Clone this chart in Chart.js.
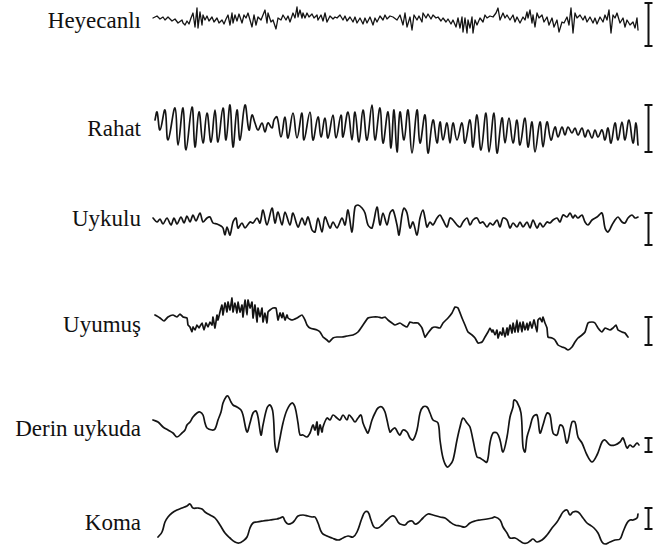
<!DOCTYPE html>
<html><head><meta charset="utf-8">
<script src="https://cdn.jsdelivr.net/npm/chart.js@4.4.0/dist/chart.umd.min.js"></script>
<style>
html,body{margin:0;padding:0;background:#fff;width:655px;height:549px;overflow:hidden;position:relative}
.lbl{position:absolute;font-family:"Liberation Serif","DejaVu Serif",serif;font-size:23px;color:#111;white-space:nowrap;line-height:1;transform:translateY(-50%);text-align:right}
canvas{position:absolute;left:150px}
</style></head><body>
<script>
// Trace names (categories)
const traceNames = ["Heyecanlı","Rahat","Uykulu","Uyumuş","Derin uykuda","Koma"];

// Each trace: [time, amplitude] samples
const heyecanli = [[3,2],[7,4],[10,1],[13,3],[15,0],[18,3],[22,-1],[25,1],[28,-3],[32,0],[33,-3],[35,-5],[37,-1],[39,-4],[41,2],[43,7],[45,-7],[47,12],[48,-8],[50,8],[52,-5],[53,5],[55,0],[57,4],[59,-1],[62,3],[64,-2],[67,2],[69,-3],[72,0],[74,-4],[76,1],[78,5],[80,-5],[82,7],[83,-3],[85,5],[87,-1],[89,6],[92,-3],[94,5],[96,2],[98,7],[100,0],[102,-7],[104,5],[106,-5],[108,3],[111,0],[113,5],[115,10],[117,-3],[118,7],[121,-2],[123,0],[126,-9],[128,2],[131,0],[133,5],[136,0],[138,4],[140,-2],[143,7],[145,2],[147,13],[148,3],[150,10],[152,2],[153,7],[155,2],[157,7],[159,3],[162,6],[164,2],[167,5],[168,0],[171,5],[173,-1],[175,7],[177,-2],[180,4],[183,1],[185,3],[187,2],[190,5],[193,0],[195,4],[197,-1],[200,3],[203,-2],[205,3],[207,-3],[210,2],[213,-4],[215,2],[217,-3],[220,3],[223,-5],[225,2],[227,-2],[230,4],[233,0],[235,5],[237,1],[240,4],
[243,3],[247,0],[250,5],[253,-5],[255,7],[257,-7],[260,3],[262,-10],[264,5],[267,0],[269,4],[272,-2],[273,7],[276,2],[278,6],[281,1],[283,5],[286,2],[288,3],[291,-1],[293,2],[296,-2],[298,1],[301,-4],[303,0],[306,-7],[308,2],[310,-8],[312,3],[313,-12],[315,2],[317,-13],[318,0],[320,-8],[322,3],[323,-13],[325,0],[327,-5],[330,2],[333,-2],[335,5],[337,2],[340,4],[343,3],[346,7],[348,12],[350,0],[353,7],[355,2],[357,5],[360,0],[363,5],[365,-2],[367,3],[370,-3],[373,3],[375,0],[377,8],[378,2],[380,10],[382,-3],[383,5],[385,-7],[387,7],[389,2],[392,5],[394,-2],[397,3],[399,-5],[402,2],[404,-7],[407,0],[409,-12],[412,-2],[414,-3],[417,3],[419,-5],[421,12],[423,-13],[425,7],[427,2],[430,5],[433,0],[435,4],[437,-2],[440,3],[443,-3],[445,2],[447,-4],[450,3],[453,-2],[455,5],[457,0],[459,10],[461,-13],[463,5],[465,2],[467,7],[470,-3],[473,2],[475,-7],[477,0],[480,-5],[483,-2],[485,-8],[487,2],[488,-10]];

const rahat = [[5,8],[7,16],[10,-2],[15,18],[18,-12],[25,20],[28,-17],[33,20],[36,-22],[42,21],[45,-19],[49,16],[53,-15],[57,15],[61,-14],[65,18],[68,-14],[73,20],[76,-12],[80,23],[83,-19],[87,18],[90,-12],[95,23],[99,-2],[102,13],[105,5],[108,-2],[112,5],[115,-4],[118,5],[122,0],[124,8],[127,11],[131,-9],[135,11],[138,-10],[143,15],[147,-10],[152,15],[154,-12],[160,16],[163,-12],[168,11],[171,-9],[175,10],[178,-10],[183,13],[186,-10],[191,13],[193,-9],[198,16],[202,-12],[205,16],[209,-14],[213,18],[217,-12],[222,23],[225,-12],[230,20],[233,-15],[238,16],[241,-20],[244,18],[247,-24],[250,16],[254,-12],[258,18],[262,-25],[267,18],[270,-15],[275,13],[278,-25],[283,8],[287,-15],[290,6],[293,-12],[297,5],[300,-15],[303,5],[307,-12],[312,5],[315,-15],[320,8],[323,-19],[327,13],[331,-22],[336,15],[339,-24],[344,15],[347,-25],[352,10],[355,-15],[359,10],[363,-15],[367,8],[370,-17],[375,10],[378,-19],[382,6],[385,-24],[390,6],[393,-19],[397,6],[401,-12],[405,1],[408,-9],[412,1],[415,-7],[418,1],[422,-5],[425,0],[428,-7],[432,0],[435,-9],[438,-2],[442,-10],[445,-2],[448,-9],[452,-2],[455,-12],[458,0],[461,-15],[465,5],[468,-12],[472,6],[475,-12],[479,8],[483,-15],[486,5],[488,-17]];

const uykulu = [[3,2],[7,-2],[10,1],[13,-4],[17,2],[21,-5],[24,2],[27,-4],[31,3],[34,-3],[37,4],[40,-2],[43,5],[46,-1],[50,7],[53,-2],[57,2],[60,3],[63,-3],[67,-4],[71,-6],[73,-8],[75,-15],[77,-7],[80,-15],[83,-2],[86,2],[88,-8],[92,-3],[95,-8],[100,-2],[103,-3],[107,2],[110,-3],[113,10],[117,-5],[122,12],[125,-3],[128,8],[132,-5],[135,8],[140,-5],[143,7],[148,-7],[152,2],[155,-5],[158,3],[162,-10],[165,-12],[168,2],[172,-12],[175,3],[180,-8],[183,-2],[187,-8],[192,2],[195,-5],[198,10],[202,-12],[205,13],[208,15],[212,12],[215,7],[218,-5],[222,-8],[227,13],[230,-5],[233,7],[237,-5],[240,7],[243,10],[247,-5],[249,-15],[252,5],[254,12],[257,7],[260,-8],[263,-2],[267,-15],[270,2],[273,10],[275,2],[277,-7],[280,-2],[283,-5],[287,2],[290,5],[293,0],[297,-7],[300,2],[303,0],[307,-5],[310,-7],[313,-2],[317,2],[320,-5],[323,0],[327,2],[330,-3],[333,-2],[337,-7],[340,-3],[343,-5],[347,0],[350,-7],[353,2],[357,0],[360,-8],[363,-3],[367,-7],[370,-2],[373,-7],[377,-2],[380,-8],[383,0],[387,-8],[390,-3],[393,-7],[397,-2],[400,-3],[403,0],[407,2],[410,-2],[413,5],[417,3],[420,7],[423,2],[425,5],[428,2],[432,5],[435,-2],[438,-5],[442,0],[447,3],[452,7],[455,-8],[458,-12],[462,-5],[465,0],[468,3],[472,-2],[475,-3],[478,2],[482,5],[485,2],[488,3]];

const uyumus = [[5,5],[10,2],[14,-1],[18,3],[23,5],[27,3],[30,6],[33,3],[37,2],[38,-5],[40,-7],[42,-12],[43,-7],[45,-10],[47,-5],[49,-8],[52,-3],[54,-10],[56,-3],[58,-7],[60,-2],[62,-5],[63,3],[65,-8],[67,5],[68,0],[70,8],[72,15],[73,5],[75,17],[77,8],[78,18],[80,10],[82,22],[83,8],[85,17],[87,7],[88,18],[90,8],[92,15],[93,3],[95,20],[97,5],[98,20],[100,12],[102,18],[103,2],[105,15],[107,-2],[108,12],[110,3],[112,12],[113,-2],[115,7],[117,-3],[118,8],[120,10],[123,12],[126,12],[128,0],[130,7],[132,2],[133,7],[135,0],[137,5],[138,2],[142,0],[147,2],[152,5],[155,0],[157,-5],[160,-8],[167,-10],[170,-12],[173,-17],[177,-20],[179,-22],[183,-18],[187,-17],[192,-17],[197,-16],[203,-15],[208,-12],[213,-5],[218,2],[223,3],[228,3],[232,2],[235,3],[238,0],[242,-3],[245,-5],[250,-3],[253,-5],[257,-7],[260,-2],[263,-3],[268,-3],[272,-8],[275,-17],[278,-13],[282,-8],[285,-7],[290,-8],[293,-3],[298,2],[302,7],[305,13],[308,12],[312,2],[315,-5],[318,-12],[322,-15],[325,-18],[328,-23],[332,-22],[335,-17],[338,-12],[340,-8],[342,-12],[343,-10],[345,-15],[347,-10],[348,-18],[350,-12],[352,-15],[353,-8],[355,-17],[357,-8],[358,-15],[360,-5],[362,-13],[363,-3],[365,-12],[367,0],[368,-12],[370,-2],[372,-12],[373,-2],[375,-10],[377,-3],[378,-10],[380,-2],[382,-8],[384,0],[387,-12],[388,0],[390,2],[392,-2],[393,3],[395,-3],[397,-8],[398,-17],[402,-18],[405,-20],[408,-25],[412,-27],[415,-28],[418,-30],[422,-27],[425,-22],[428,-18],[432,-15],[435,-12],[438,-3],[442,-2],[445,-3],[448,-8],[452,-12],[455,-8],[460,-10],[463,-8],[466,-5],[468,-10],[472,-12],[475,-13],[478,-17]];

const derin = [[3,5],[8,3],[13,-2],[18,-5],[23,-8],[27,-12],[32,-8],[35,-5],[37,0],[40,3],[43,8],[47,12],[50,13],[53,10],[55,2],[57,-3],[62,-5],[65,-4],[68,5],[71,13],[73,22],[76,28],[78,29],[81,23],[83,20],[87,18],[91,15],[93,10],[97,-7],[100,2],[103,12],[106,14],[108,8],[111,-10],[113,0],[117,17],[120,20],[123,12],[125,-20],[127,-27],[129,-18],[133,2],[137,15],[142,22],[145,18],[148,2],[150,-10],[153,-10],[157,-12],[160,-8],[163,0],[165,-5],[167,3],[168,-10],[170,0],[172,-7],[173,-2],[177,7],[180,5],[183,10],[187,7],[190,5],[193,10],[197,5],[199,10],[202,7],[205,3],[208,7],[211,10],[213,2],[216,-5],[218,-8],[222,5],[225,12],[228,17],[232,18],[235,13],[237,5],[240,-7],[242,-5],[245,-3],[248,-8],[250,-10],[253,-5],[257,-7],[260,-13],[263,-15],[267,-5],[270,12],[273,18],[277,18],[280,12],[283,5],[288,2],[290,-15],[293,-33],[297,-42],[300,-40],[303,-35],[307,-15],[310,-2],[313,7],[317,2],[320,-2],[323,-15],[327,-32],[330,-33],[333,-35],[337,-37],[340,-18],[343,-8],[347,-8],[350,-15],[353,-27],[357,-12],[360,8],[363,18],[364,25],[367,23],[371,12],[373,-22],[375,-27],[377,-12],[380,-2],[383,8],[387,10],[390,-8],[393,0],[397,12],[400,10],[403,-8],[407,-10],[410,0],[413,-2],[417,-18],[422,3],[425,3],[428,-12],[432,-18],[437,-30],[442,-37],[447,-30],[452,-17],[455,-15],[460,-20],[465,-20],[470,-17],[473,-13],[477,-23],[480,-20],[483,-22],[487,-18],[489,-20]];

const koma = [[8,-17],[12,-12],[15,-2],[18,3],[22,7],[27,10],[32,12],[37,14],[40,16],[43,12],[48,12],[52,11],[55,8],[60,5],[65,2],[70,-5],[75,-13],[80,-18],[85,-22],[89,-23],[93,-21],[97,-17],[100,-8],[103,-3],[107,-2],[113,-1],[120,0],[127,1],[130,2],[133,3],[135,-1],[138,-4],[142,-3],[145,0],[148,4],[153,5],[158,4],[162,3],[165,3],[168,-3],[172,-13],[177,-16],[182,-18],[188,-20],[193,-18],[198,-16],[203,-17],[207,-12],[212,2],[215,8],[218,8],[221,0],[224,-7],[228,-8],[232,-5],[237,0],[242,4],[245,3],[248,-2],[250,-4],[255,-5],[258,-2],[262,-1],[265,-4],[268,-3],[273,2],[278,6],[283,5],[290,3],[295,2],[300,-2],[305,-5],[310,-6],[315,-7],[320,-3],[325,-1],[330,0],[337,1],[342,2],[345,3],[350,0],[353,-7],[357,-13],[360,-18],[365,-18],[370,-21],[373,-23],[377,-23],[380,-21],[383,-19],[387,-22],[392,-20],[397,-15],[402,-8],[407,-2],[410,3],[413,8],[417,10],[420,5],[423,8],[428,8],[433,2],[437,-3],[440,-5],[444,-8],[448,-13],[452,-22],[455,-24],[460,-22],[465,-20],[470,-19],[473,-12],[477,-3],[480,0],[483,0],[487,2],[488,6]];

// Calibration bar (amplitude range) per trace
const calHigh = [17, 23, 7, 3, -13, 12];
const calLow  = [-26, -24, -25, -25, -27, -9];

// ---- layout / style (not data) ----
const series = [heyecanli, rahat, uykulu, uyumus, derin, koma];
const centers = [20, 128, 220, 320, 425, 520];
const labelCenters = [20, 128, 218, 324, 428, 522];
const tensions = [0, 0.4, 0.3, 0.15, 0.35, 0.4];
const CAL_T = 498;
const W = 505, H = 100, HALF = 50;

const calPlugin = {
  id: 'cal',
  afterDatasetsDraw(chart) {
    const i = chart.options.plugins.cal.index;
    const {ctx, scales: {x, y}} = chart;
    const px = Math.round(x.getPixelForValue(CAL_T)) + 0.5;
    const t = y.getPixelForValue(calHigh[i]);
    const b = y.getPixelForValue(calLow[i]);
    ctx.save();
    ctx.strokeStyle = '#111';
    ctx.lineWidth = 2;
    ctx.beginPath();
    ctx.moveTo(px, t); ctx.lineTo(px, b);
    ctx.moveTo(px - 4, t); ctx.lineTo(px + 4, t);
    ctx.moveTo(px - 4, b); ctx.lineTo(px + 4, b);
    ctx.stroke();
    ctx.restore();
  }
};

series.forEach((s, i) => {
  const lbl = document.createElement('div');
  lbl.className = 'lbl';
  lbl.textContent = traceNames[i];
  lbl.style.right = (655 - 141) + 'px';
  lbl.style.top = labelCenters[i] + 'px';
  document.body.appendChild(lbl);

  const cv = document.createElement('canvas');
  cv.width = W; cv.height = H;
  cv.style.width = W + 'px'; cv.style.height = H + 'px';
  cv.style.top = (centers[i] - HALF) + 'px';
  document.body.appendChild(cv);

  new Chart(cv, {
    type: 'line',
    data: { datasets: [{
      data: s.map(p => ({x: p[0], y: p[1]})),
      borderColor: '#141414',
      borderWidth: i === 0 ? 1.3 : 1.7,
      pointRadius: 0,
      fill: false,
      tension: tensions[i],
      borderJoinStyle: 'round',
      borderCapStyle: 'round'
    }]},
    options: {
      responsive: false,
      animation: false,
      events: [],
      layout: { padding: 0 },
      plugins: { legend: {display: false}, tooltip: {enabled: false}, cal: {index: i} },
      scales: {
        x: { type: 'linear', display: false, min: 0, max: W },
        y: { display: false, min: -HALF, max: HALF }
      }
    },
    plugins: [calPlugin]
  });
});
</script>
</body></html>
